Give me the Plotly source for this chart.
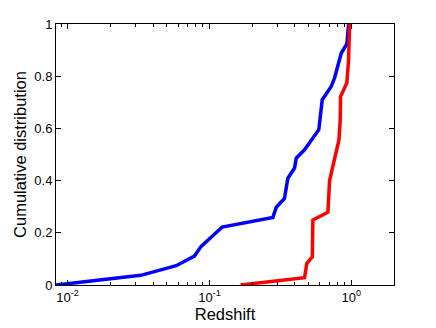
import numpy as np
import plotly.graph_objects as go

# Blue sample: redshift vs cumulative fraction
blue_z = [0.0083, 0.0328, 0.0582, 0.0783, 0.0874, 0.123, 0.280, 0.296, 0.338, 0.347,
          0.357, 0.398, 0.409, 0.468, 0.590, 0.624, 0.722, 0.762, 0.800, 0.850, 0.931, 0.957]
blue_cdf = [0.0, 0.037, 0.074, 0.111, 0.148, 0.222, 0.259, 0.298, 0.332, 0.377,
            0.409, 0.448, 0.486, 0.518, 0.595, 0.710, 0.761, 0.793, 0.837, 0.889, 0.924, 1.0]

# Red sample
red_z = [0.1655, 0.468, 0.486, 0.531, 0.536, 0.684, 0.703, 0.762, 0.818, 0.836, 0.840,
         0.930, 0.957, 0.973]
red_cdf = [0.0, 0.028, 0.083, 0.108, 0.249, 0.279, 0.400, 0.479, 0.556, 0.633, 0.722,
           0.774, 0.863, 1.0]

x_tickvals = [0.01, 0.1, 1]
x_ticktext = ["10<sup>-2</sup>", "10<sup>-1</sup>", "10<sup>0</sup>"]
y_tickvals = [0, 0.2, 0.4, 0.6, 0.8, 1]
y_ticktext = ["0", "0.2", "0.4", "0.6", "0.8", "1"]

FONT = "Liberation Sans, Arial, Helvetica, sans-serif"

fig = go.Figure()
fig.add_trace(go.Scatter(x=blue_z, y=blue_cdf, mode="lines",
                         line=dict(color="#0000ff", width=3.5), showlegend=False))
fig.add_trace(go.Scatter(x=red_z, y=red_cdf, mode="lines",
                         line=dict(color="#ff0000", width=3.5), showlegend=False))

fig.update_layout(
    width=436, height=328,
    margin=dict(l=56, r=42, t=24, b=43),
    paper_bgcolor="white", plot_bgcolor="white",
    font=dict(family=FONT, size=13, color="black"),
    xaxis=dict(
        type="log", range=[np.log10(0.00828), np.log10(2.0)],
        tickvals=x_tickvals, ticktext=x_ticktext,
        ticks="inside", ticklen=5, tickwidth=1, tickcolor="black",
        minor=dict(ticks="inside", ticklen=3, tickcolor="black", showgrid=False,
                   dtick="D1"),
        showline=True, linecolor="black", linewidth=1, mirror="allticks",
        showgrid=False, zeroline=False, automargin=False,
        tickfont=dict(size=13),
        title=dict(text="Redshift", font=dict(size=16.5), standoff=4),
    ),
    yaxis=dict(
        range=[0, 1],
        tickvals=y_tickvals, ticktext=y_ticktext,
        ticks="inside", ticklen=5, tickwidth=1, tickcolor="black",
        showline=True, linecolor="black", linewidth=1, mirror="allticks",
        showgrid=False, zeroline=False, automargin=False,
        title=dict(text="Cumulative distribution", font=dict(size=16.5), standoff=3),
    ),
)

fig.write_html("out.html",
               config={"displayModeBar": False},
               post_script="document.body.style.margin='0';document.body.style.overflow='hidden';")
